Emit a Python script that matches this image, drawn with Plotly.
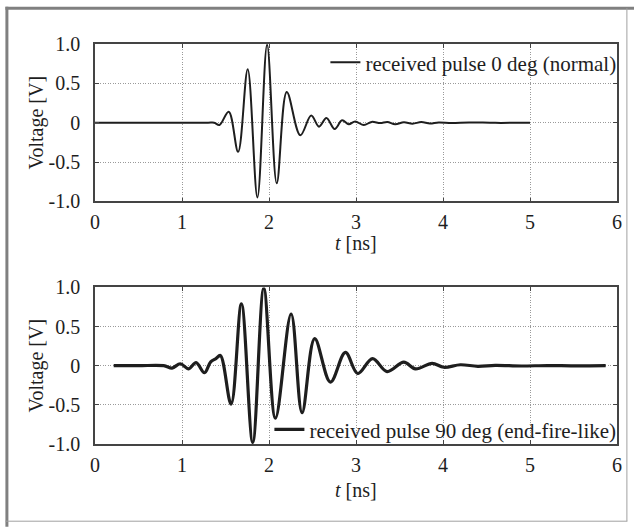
import plotly.graph_objects as go

# ---------------- data ----------------
t_0deg = [0.0, 0.6, 1.30, 1.37, 1.43, 1.537, 1.645, 1.755, 1.867, 1.978, 2.089, 2.204,
          2.36, 2.485, 2.575, 2.66, 2.755, 2.84, 2.917, 2.99, 3.09, 3.18, 3.28, 3.36,
          3.45, 3.55, 3.65, 3.75, 3.85, 3.95, 4.1, 4.3, 4.6, 5.0]
v_0deg = [0.0, 0.0, 0.0, 0.0, -0.03, 0.14, -0.37, 0.68, -0.95, 0.99, -0.77, 0.39,
          -0.16, 0.09, -0.05, 0.06, -0.08, 0.03, -0.02, 0.015, -0.03, 0.01, -0.005, 0.01,
          -0.02, 0.005, -0.012, 0.008, -0.01, 0.004, -0.004, 0.004, -0.002, 0.0]

t_90deg = [0.215, 0.5, 0.79, 0.886, 0.98, 1.077, 1.162, 1.258, 1.33, 1.39, 1.441,
           1.564, 1.683, 1.813, 1.94, 2.074, 2.254, 2.38, 2.525, 2.706, 2.878, 3.02,
           3.19, 3.357, 3.55, 3.683, 3.875, 4.008, 4.2, 4.4, 4.6, 4.9, 5.2, 5.5, 5.87]
v_90deg = [0.0, 0.0, 0.0, -0.03, 0.025, -0.04, 0.04, -0.09, 0.05, 0.09, 0.13,
           -0.49, 0.79, -0.98, 0.99, -0.67, 0.66, -0.60, 0.345, -0.21, 0.17, -0.10,
           0.09, -0.075, 0.045, -0.04, 0.03, -0.02, 0.012, -0.008, 0.004, -0.004, 0.002, -0.002, 0.0]

name_0deg = "received pulse 0 deg (normal)"
name_90deg = "received pulse 90 deg (end-fire-like)"

x_tickvals = [0, 1, 2, 3, 4, 5, 6]
x_ticktext = ["0", "1", "2", "3", "4", "5", "6"]
y_tickvals = [-1.0, -0.5, 0.0, 0.5, 1.0]
y_ticktext = ["-1.0", "-0.5", "0", "0.5", "1.0"]
x_title = "<i>t</i> [ns]"
y_title = "Voltage [V]"

# ---------------- layout geometry (pixels) ----------------
W, H = 634, 529
PL, PR = 94.6, 616.6      # plot area left/right
PT, PB = 44.3, 444.3      # plot area top/bottom (both panels)
top_panel = (44.3, 201.7)
bot_panel = (287.7, 444.3)

def fy(py):
    return (PB - py) / (PB - PT)

def fx(px):
    return (px - PL) / (PR - PL)

FONT = "Liberation Serif"
FS = 20
FS_LEG = 21
INK = "#1e1e1e"

fig = go.Figure()
fig.add_trace(go.Scatter(x=t_0deg, y=v_0deg, mode="lines", name=name_0deg,
                         line=dict(color=INK, width=2, shape="spline", smoothing=1.0),
                         xaxis="x", yaxis="y", legend="legend"))
fig.add_trace(go.Scatter(x=t_90deg, y=v_90deg, mode="lines", name=name_90deg,
                         line=dict(color=INK, width=3.2, shape="spline", smoothing=1.0),
                         xaxis="x2", yaxis="y2", legend="legend2"))

axis_common = dict(
    showgrid=True, gridcolor="#9a9a9a", griddash="1px,1.5px", gridwidth=1,
    showline=True, linecolor="#444", linewidth=1.5, mirror="ticks",
    ticks="inside", ticklen=4, tickcolor="#444",
    zeroline=False, automargin=False,
    tickfont=dict(family=FONT, size=FS, color=INK),
)

xax = dict(axis_common, range=[0, 6], tickmode="array", tickvals=x_tickvals, ticktext=x_ticktext,
           ticklabelstandoff=2)
yax = dict(axis_common, range=[-1, 1], tickmode="array", tickvals=y_tickvals, ticktext=y_ticktext,
           ticklabelstandoff=9,
           title=dict(text=y_title, font=dict(family=FONT, size=FS, color=INK), standoff=0))

fig.update_layout(
    width=W, height=H,
    margin=dict(l=PL, r=W - PR, t=PT, b=H - PB, pad=0),
    paper_bgcolor="white", plot_bgcolor="white",
    font=dict(family=FONT, size=FS, color=INK),
    xaxis=dict(xax, domain=[0, 1], anchor="y"),
    yaxis=dict(yax, domain=[fy(top_panel[1]), fy(top_panel[0])], anchor="x"),
    xaxis2=dict(xax, domain=[0, 1], anchor="y2"),
    yaxis2=dict(yax, domain=[fy(bot_panel[1]), fy(bot_panel[0])], anchor="x2"),
    legend=dict(x=fx(621), xanchor="right", y=fy(63), yanchor="middle",
                bgcolor="rgba(0,0,0,0)", font=dict(family=FONT, size=FS_LEG, color=INK),
                itemwidth=30, tracegroupgap=0),
    legend2=dict(x=fx(621), xanchor="right", y=fy(430), yanchor="middle",
                 bgcolor="rgba(0,0,0,0)", font=dict(family=FONT, size=FS_LEG, color=INK),
                 itemwidth=30, tracegroupgap=0),
    showlegend=True,
)

# x-axis titles placed as annotations (closer to tick labels than plotly allows)
for py in (243, 490):
    fig.add_annotation(text=x_title, xref="paper", yref="paper", x=0.5, y=fy(py),
                       xanchor="center", yanchor="middle", showarrow=False,
                       font=dict(family=FONT, size=FS, color=INK))

# outer frame of the figure
frame = "#808080"
fig.add_shape(type="line", xref="paper", yref="paper", x0=fx(6.5), x1=fx(6.5), y0=fy(7), y1=fy(527),
              line=dict(color=frame, width=3))
fig.add_shape(type="line", xref="paper", yref="paper", x0=fx(5), x1=fx(634), y0=fy(8.5), y1=fy(8.5),
              line=dict(color=frame, width=3))
fig.add_shape(type="line", xref="paper", yref="paper", x0=fx(5), x1=fx(627), y0=fy(521.5), y1=fy(521.5),
              line=dict(color="#a0a0a0", width=1))
fig.add_shape(type="line", xref="paper", yref="paper", x0=fx(626.5), x1=fx(626.5), y0=fy(8.5), y1=fy(521.5),
              line=dict(color="#a0a0a0", width=1))

fig.write_html("out.html")
